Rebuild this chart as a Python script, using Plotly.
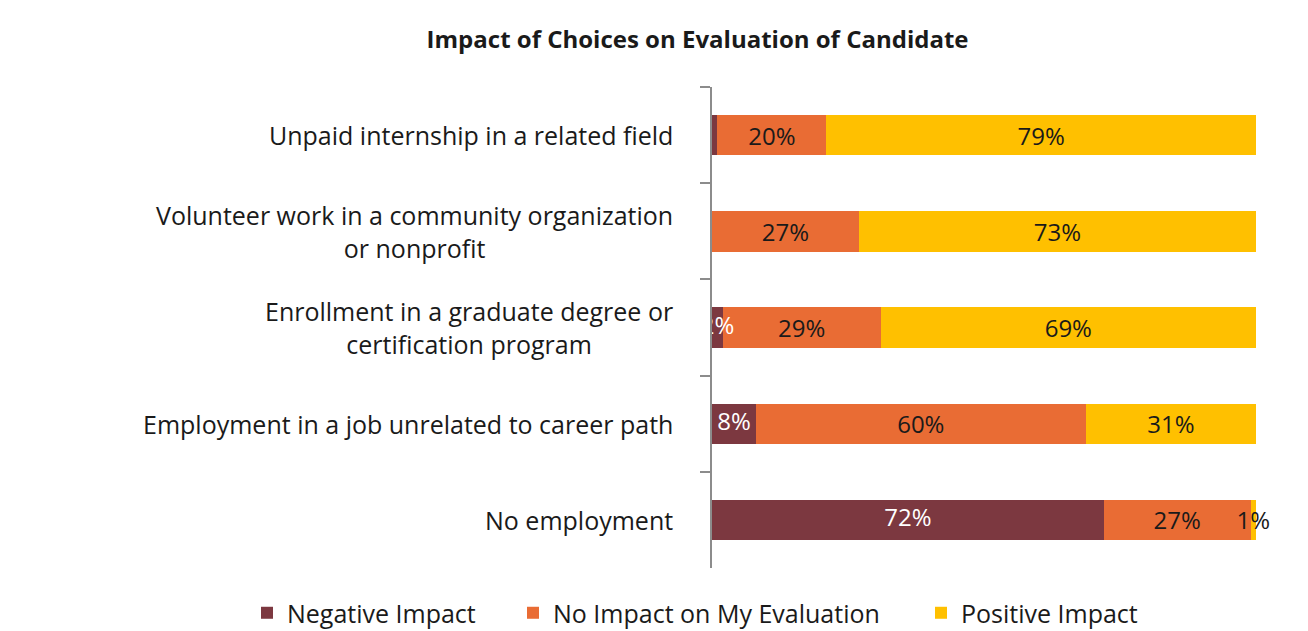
import plotly.graph_objects as go

categories = [
    "Unpaid internship in a related field",
    "Volunteer work in a community organization<br>or nonprofit",
    "Enrollment in a graduate degree or<br>certification program",
    "Employment in a job unrelated to career path",
    "No employment",
]
negative = [1, 0, 2, 8, 72]
no_impact = [20, 27, 29, 60, 27]
positive = [79, 73, 69, 31, 1]
neg_labels = ["", "", "2%", "8%", "72%"]
none_labels = ["20%", "27%", "29%", "60%", "27%"]
pos_labels = ["79%", "73%", "69%", "31%", "1%"]

FONT = "Open Sans"
fig = go.Figure()
series = [
    ("Negative Impact", negative, None, "#7C3840", "white", "legend"),
    ("No Impact on My Evaluation", no_impact, none_labels, "#E96C34", "#1a1a1a", "legend2"),
    ("Positive Impact", positive, pos_labels, "#FFC000", "#1a1a1a", "legend3"),
]
for name, vals, labels, color, tcolor, leg in series:
    fig.add_trace(go.Bar(
        y=categories, x=vals, name=name, orientation="h", legend=leg,
        marker=dict(color=color, line=dict(width=0)),
        text=labels, textposition="inside", insidetextanchor="middle",
        constraintext="none", textangle=0, cliponaxis=False,
        textfont=dict(family=FONT, size=24, color=tcolor),
        hoverinfo="skip",
    ))

# negative-impact labels drawn on top so the small "2%" is not hidden
totals = [a + b + c for a, b, c in zip(negative, no_impact, positive)]
neg_mid = [n / t * 100 / 2 for n, t in zip(negative, totals)]
fig.add_trace(go.Scatter(
    x=neg_mid, y=categories, mode="text", text=neg_labels,
    textposition="middle center", cliponaxis=False, showlegend=False,
    textfont=dict(family=FONT, size=24, color="white"), hoverinfo="skip",
))

for c in categories:
    fig.add_annotation(
        x=0, xref="paper", y=c, yref="y", xanchor="right", xshift=-37,
        text=c, showarrow=False, align="center",
        font=dict(family=FONT, size=25, color="#1a1a1a"),
    )

leg_common = dict(orientation="h", xref="paper", yref="paper",
                  xanchor="left", y=-0.0936, yanchor="middle",
                  font=dict(family=FONT, size=25, color="#1a1a1a"))

fig.update_layout(
    width=1308, height=631,
    barmode="stack", barnorm="percent", bargap=0.58,
    paper_bgcolor="white", plot_bgcolor="white",
    margin=dict(l=712, r=52, t=87, b=63, autoexpand=False),
    title=dict(text="<b>Impact of Choices on Evaluation of Candidate</b>",
               x=0.5333, xanchor="center", y=0.9366, yanchor="middle",
               font=dict(family=FONT, size=24, color="#1a1a1a")),
    xaxis=dict(visible=False, range=[0, 100]),
    yaxis=dict(autorange="reversed", showticklabels=False,
               showline=True, linecolor="#8c8c8c", linewidth=1.5,
               ticks="outside", tickson="boundaries", ticklen=10,
               tickcolor="#8c8c8c", tickwidth=1.5),
    legend=dict(x=-0.8548, **leg_common),
    legend2=dict(x=-0.3658, **leg_common),
    legend3=dict(x=0.3842, **leg_common),
    showlegend=True,
)
fig.write_html("out.html", config={"displayModeBar": False},
               post_script="document.body.style.margin='0';document.body.style.overflow='hidden';")
